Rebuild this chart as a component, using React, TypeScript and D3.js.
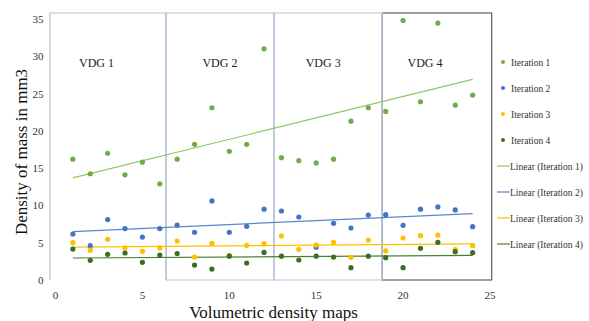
import React, { useEffect, useRef } from 'react';
import * as d3 from 'd3';

// map number on the x axis
const maps = [1, 2, 3, 4, 5, 6, 7, 8, 9, 10, 11, 12, 13, 14, 15, 16, 17, 18, 19, 20, 21, 22, 23, 24];

const iteration1 = [16.2, 14.25, 17.0, 14.1, 15.8, 12.9, 16.2, 18.2, 23.1, 17.25, 18.2, 31.0,
  16.4, 16.0, 15.7, 16.2, 21.3, 23.1, 22.6, 34.8, 23.9, 34.45, 23.45, 24.8];
const iteration2 = [6.17, 4.6, 8.1, 6.9, 5.76, 6.9, 7.37, 6.4, 10.6, 6.4, 7.2, 9.5,
  9.25, 8.45, 4.4, 7.6, 6.97, 8.7, 8.76, 7.33, 9.5, 9.8, 9.4, 7.15];
const iteration3 = [5.0, 4.0, 5.45, 4.3, 3.85, 4.3, 5.23, 3.08, 4.9, 3.3, 4.65, 4.87,
  5.9, 4.1, 4.7, 5.05, 3.04, 5.36, 3.9, 5.63, 5.94, 6.03, 4.07, 4.6];
const iteration4 = [4.15, 2.64, 3.44, 3.62, 2.37, 3.35, 3.53, 2.0, 1.47, 3.2, 2.28, 3.7,
  3.2, 2.68, 3.2, 3.08, 1.65, 3.2, 3.0, 1.65, 4.25, 5.05, 3.8, 3.66];

// linear trendline values at x = 1 and x = 24
const trend1 = [13.7, 26.9];
const trend2 = [6.5, 8.9];
const trend3 = [4.4, 4.85];
const trend4 = [2.95, 3.3];

const seriesNames = ['Iteration 1', 'Iteration 2', 'Iteration 3', 'Iteration 4'];
const xTicks = [0, 5, 10, 15, 20, 25];
const yTicks = [0, 5, 10, 15, 20, 25, 30, 35];

const vdgLabels = ['VDG 1', 'VDG 2', 'VDG 3', 'VDG 4'];
const vdgEdges = [-0.32, 6.36, 12.57, 18.8, 25.1];
const vdgLabelX = [2.36, 9.46, 15.4, 21.26];

const App = () => {
  const ref = useRef<SVGSVGElement>(null);

  useEffect(() => {
    document.body.style.margin = '0';
    const svg = d3.select(ref.current);
    svg.selectAll('*').remove();

    const font = '"Liberation Serif", "Times New Roman", serif';
    const markerColors = ['#70ad47', '#4472c4', '#ffc000', '#3b6e22'];
    const lineColors = ['#8cc95f', '#5a86d0', '#ffc000', '#4f7e33'];
    const series = [iteration1, iteration2, iteration3, iteration4];
    const trends = [trend1, trend2, trend3, trend4];

    const x = d3.scaleLinear().domain([0, 25]).range([55.5, 490]);
    const y = d3.scaleLinear().domain([0, 35]).range([280, 19]);
    const top = 13;

    // VDG boxes: the last one dark, the others light and drawn over it
    const boxes = svg.append('g');
    boxes.append('rect')
      .attr('x', x(vdgEdges[3]))
      .attr('y', top)
      .attr('width', x(vdgEdges[4]) - x(vdgEdges[3]))
      .attr('height', y(0) - top)
      .attr('fill', 'none')
      .attr('stroke', '#5a5f68')
      .attr('stroke-width', 1.2);
    for (let i = 0; i < 3; i++) {
      const x0 = x(vdgEdges[i]);
      const x1 = x(vdgEdges[i + 1]);
      const p = i === 0
        ? `M${x0},${y(0)}V${top}H${x1}V${y(0)}`
        : `M${x0},${y(0)}V${top}H${x1}V${y(0)}H${x0}`;
      boxes.append('path')
        .attr('d', p)
        .attr('fill', 'none')
        .attr('stroke', '#b3c1d6')
        .attr('stroke-width', 1.2);
    }

    boxes.selectAll('.vdg')
      .data(vdgLabels)
      .enter()
      .append('text')
      .attr('class', 'vdg')
      .attr('x', (d, i) => x(vdgLabelX[i]))
      .attr('y', 67)
      .attr('text-anchor', 'middle')
      .style('font-family', font)
      .style('font-size', '12px')
      .attr('fill', '#222')
      .text((d) => d);

    // axes tick labels
    svg.append('g')
      .selectAll('text')
      .data(yTicks)
      .enter()
      .append('text')
      .attr('x', 43.5)
      .attr('y', (d) => y(d) + 4)
      .attr('text-anchor', 'end')
      .style('font-family', font)
      .style('font-size', '11px')
      .attr('fill', '#333')
      .text((d) => d);

    svg.append('g')
      .selectAll('text')
      .data(xTicks)
      .enter()
      .append('text')
      .attr('x', (d) => x(d))
      .attr('y', 298.5)
      .attr('text-anchor', 'middle')
      .style('font-family', font)
      .style('font-size', '11px')
      .attr('fill', '#333')
      .text((d) => d);

    svg.append('text')
      .text('Volumetric density maps')
      .attr('x', 273.5)
      .attr('y', 317.5)
      .attr('text-anchor', 'middle')
      .style('font-family', font)
      .style('font-size', '17px')
      .attr('fill', '#111');

    svg.append('text')
      .text('Density of mass in mm3')
      .attr('transform', 'translate(27,152) rotate(-90)')
      .attr('text-anchor', 'middle')
      .style('font-family', font)
      .style('font-size', '17px')
      .attr('fill', '#111');

    // trend lines
    const line = d3.line<number>().x((d, i) => x(i === 0 ? maps[0] : maps[maps.length - 1])).y((d) => y(d));
    trends.forEach((t, k) => {
      svg.append('path')
        .attr('d', line(t))
        .attr('fill', 'none')
        .attr('stroke', lineColors[k])
        .attr('stroke-width', 1.2);
    });

    // markers
    series.forEach((s, k) => {
      svg.append('g')
        .selectAll('circle')
        .data(s)
        .enter()
        .append('circle')
        .attr('cx', (d, i) => x(maps[i]))
        .attr('cy', (d) => y(d))
        .attr('r', 2.6)
        .attr('fill', markerColors[k]);
    });

    // legend
    const legend = svg.append('g');
    seriesNames.forEach((name, k) => {
      const ly = 62 + k * 26;
      legend.append('circle')
        .attr('cx', 503)
        .attr('cy', ly)
        .attr('r', 2)
        .attr('fill', markerColors[k]);
      legend.append('text')
        .attr('x', 511)
        .attr('y', ly + 3.5)
        .style('font-family', font)
        .style('font-size', '9.5px')
        .attr('fill', '#333')
        .text(name);

      const ty = 166 + k * 26;
      legend.append('line')
        .attr('x1', 497)
        .attr('x2', 510)
        .attr('y1', ty)
        .attr('y2', ty)
        .attr('stroke', lineColors[k])
        .attr('stroke-width', 1.2);
      legend.append('text')
        .attr('x', 510)
        .attr('y', ty + 3.5)
        .style('font-family', font)
        .style('font-size', '9.5px')
        .attr('fill', '#333')
        .text(`Linear (${name})`);
    });
  }, []);

  return (
    <div>
      <svg ref={ref} width={589} height={321} style={{ display: 'block', background: '#fff' }} />
    </div>
  );
};

export default App;
